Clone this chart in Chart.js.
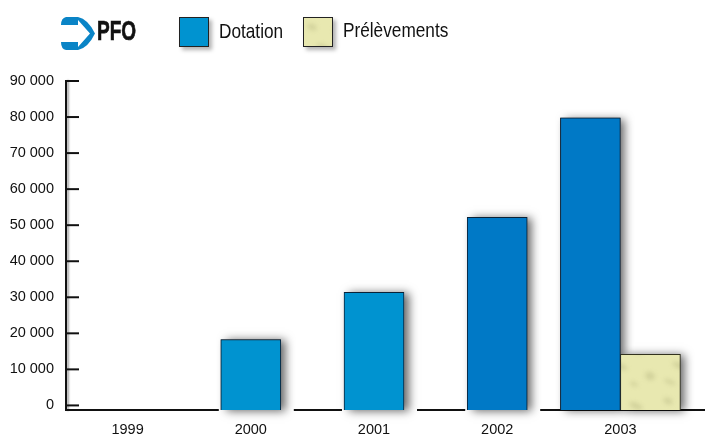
<!DOCTYPE html>
<html>
<head>
<meta charset="utf-8">
<script src="https://cdn.jsdelivr.net/npm/chart.js@4/dist/chart.umd.min.js"></script>
<style>
  html, body { margin: 0; padding: 0; background: #fff; }
  #wrap { position: relative; width: 705px; height: 434px; overflow: hidden; font-family: "Liberation Sans", sans-serif; color: #111; }
  #wrap canvas { position: absolute; left: 0; top: 0; }
  .title { position: absolute; left: 97px; top: 16px; font-size: 28px; line-height: 30px; font-weight: bold; transform: scaleX(0.68); transform-origin: left center; -webkit-text-stroke: 0.7px #111; }
  .swatch { position: absolute; top: 17px; width: 28px; height: 28px; border: 1px solid #222; box-shadow: 3px 3px 4px rgba(0,0,0,0.3); }
  .name { position: absolute; font-size: 21px; line-height: 24px; transform: scaleX(0.82); transform-origin: left center; white-space: nowrap; }
  #logo { position: absolute; left: 0; top: 0; }
</style>
</head>
<body>
<div id="wrap">
  <canvas id="chart" width="705" height="434"></canvas>
  <svg id="logo" width="100" height="55">
    <path d="M66 17 H78 Q88 19 95 33.5 Q88 48 78 50 H66 Q61 49 61 42 V25 Q61 18 66 17 Z" fill="#0a84c6"/>
    <path d="M60 25 H78 V20 L90 33.5 L78 47 V42 H60 Z" fill="#fff"/>
  </svg>
  <div class="title">PFO</div>
  <div id="legend"></div>
</div>
<script>
const years = ['1999', '2000', '2001', '2002', '2003'];
const dotation = [null, 18300, 31400, 52200, 79800];
const prelevements = [null, null, null, null, 14200];
const yTicks = [0, 10000, 20000, 30000, 40000, 50000, 60000, 70000, 80000, 90000];
const dotationColors = ['#0093d0', '#0093d0', '#0093d0', '#0079c6', '#0079c6'];

const axisFloor = -1270; // the baseline sits a little under the 0 tick
const tickFont = { family: '"Liberation Sans"', size: 14.5 };

// mottled fill for the second series
function mottled() {
  const c = document.createElement('canvas');
  c.width = 60; c.height = 56;
  const g = c.getContext('2d');
  g.fillStyle = '#e8e8b0';
  g.fillRect(0, 0, 60, 56);
  g.filter = 'blur(2px)';
  g.fillStyle = 'rgba(185,185,130,0.45)';
  [[8, 9, 5, 3], [36, 14, 7, 3], [20, 30, 8, 3], [50, 40, 5, 4], [10, 46, 6, 2], [34, 48, 4, 2]].forEach(b => {
    g.beginPath();
    g.ellipse(b[0], b[1], b[2], b[3], 0.4, 0, Math.PI * 2);
    g.fill();
  });
  return c;
}
const texture = mottled();
const pattern = document.getElementById('chart').getContext('2d').createPattern(texture, 'repeat');

// Axes by hand: ticks go inward and the baseline breaks under lone bars' shadows.
// Bar shadows live here too since BarElement clips its own drawing to the rect.
const axesPlugin = {
  id: 'axes',
  beforeDatasetsDraw(chart) {
    const { ctx, chartArea, scales } = chart;
    const base = scales.y.getPixelForValue(axisFloor);
    ctx.save();
    ctx.strokeStyle = '#111';
    ctx.lineWidth = 2;
    ctx.shadowColor = 'rgba(0,0,0,0.35)';
    ctx.shadowOffsetX = 2;
    ctx.shadowBlur = 2;
    ctx.beginPath();
    ctx.moveTo(chartArea.left, scales.y.getPixelForValue(90000) - 1);
    ctx.lineTo(chartArea.left, base + 1);
    ctx.stroke();
    ctx.shadowColor = 'transparent';
    yTicks.forEach(v => {
      const y = scales.y.getPixelForValue(v);
      ctx.beginPath();
      ctx.moveTo(chartArea.left, y);
      ctx.lineTo(chartArea.left + 13, y);
      ctx.stroke();
    });
    ctx.beginPath();
    ctx.moveTo(chartArea.left - 1, base);
    ctx.lineTo(705, base);
    ctx.stroke();
    // white gap round the lone bars
    ctx.fillStyle = '#fff';
    chart.getDatasetMeta(0).data.forEach((bar, i) => {
      if (dotation[i] === null || prelevements[i] !== null) return;
      ctx.fillRect(bar.x - bar.width / 2 - 2, base - 2, bar.width + 15, 4);
    });
    // shadows
    ctx.shadowColor = 'rgba(0,0,0,0.6)';
    ctx.shadowOffsetX = 5;
    ctx.shadowOffsetY = 1;
    ctx.shadowBlur = 9;
    ctx.fillStyle = '#555';
    [0, 1].forEach(d => {
      chart.getDatasetMeta(d).data.forEach((bar, i) => {
        const v = d === 0 ? dotation[i] : prelevements[i];
        if (v === null) return;
        ctx.fillRect(bar.x - bar.width / 2, bar.y, bar.width, bar.base - bar.y);
      });
    });
    ctx.restore();
  }
};

const chart = new Chart(document.getElementById('chart'), {
  type: 'bar',
  plugins: [axesPlugin],
  data: {
    labels: years,
    datasets: [
      { label: 'Dotation', data: dotation, backgroundColor: dotationColors, borderColor: '#0a2238', borderWidth: 1, base: axisFloor },
      { label: 'Prélèvements', data: prelevements, backgroundColor: pattern, borderColor: '#33331f', borderWidth: 1, base: axisFloor }
    ]
  },
  options: {
    responsive: false,
    animation: false,
    layout: { padding: { left: 0, top: 81, right: 23, bottom: 0 } },
    plugins: { legend: { display: false }, tooltip: { enabled: false } },
    datasets: { bar: { skipNull: true, barThickness: 60 } },
    scales: {
      x: {
        afterFit: axis => { axis.height = 24; },
        grid: { display: false },
        border: { display: false },
        ticks: { color: '#111', padding: 3, font: tickFont, maxRotation: 0 }
      },
      y: {
        min: axisFloor,
        max: 90000,
        afterBuildTicks: axis => { axis.ticks = yTicks.map(v => ({ value: v })); },
        afterFit: axis => { axis.width = 66; },
        grid: { display: false },
        border: { display: false },
        ticks: {
          color: '#111',
          padding: 4,
          font: tickFont,
          callback: v => v === 0 ? '0' : String(v).replace(/(\d)(?=\d{3}$)/, '$1 ')
        }
      }
    }
  }
});

// Legend is laid out in the page, fed from the datasets
const legendEl = document.getElementById('legend');
[[179, 219], [303, 343]].forEach((pos, i) => {
  const ds = chart.data.datasets[i];
  const sw = document.createElement('div');
  sw.className = 'swatch';
  sw.style.left = pos[0] + 'px';
  if (i === 0) sw.style.background = dotationColors[1];
  else sw.style.background = `url(${texture.toDataURL()})`;
  legendEl.appendChild(sw);
  const nm = document.createElement('div');
  nm.className = 'name';
  nm.style.left = pos[1] + 'px';
  nm.style.top = (i === 0 ? 19 : 18) + 'px';
  nm.textContent = ds.label;
  legendEl.appendChild(nm);
});
</script>
</body>
</html>
